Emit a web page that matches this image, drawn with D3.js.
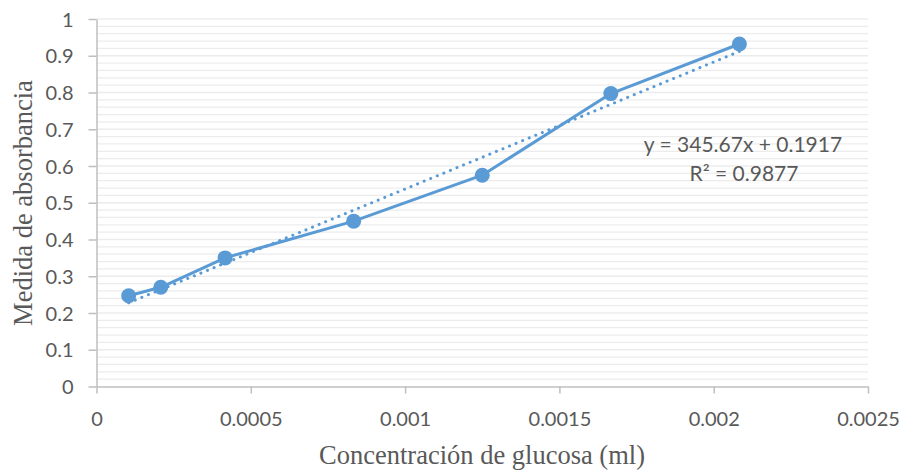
<!DOCTYPE html>
<html><head><meta charset="utf-8">
<script src="https://cdn.jsdelivr.net/npm/d3@7"></script>
<style>body{margin:0;background:#fff}svg{display:block}</style>
</head><body>
<script>
const concentrations = [0.0001042, 0.0002083, 0.0004167, 0.0008333, 0.00125, 0.0016667, 0.0020833];
const absorbance = [0.247, 0.270, 0.350, 0.450, 0.575, 0.797, 0.932];
const xTicks = [0, 0.0005, 0.001, 0.0015, 0.002, 0.0025];
const xTickLabels = ["0", "0.0005", "0.001", "0.0015", "0.002", "0.0025"];
const yTicks = [0, 0.1, 0.2, 0.3, 0.4, 0.5, 0.6, 0.7, 0.8, 0.9, 1];
const yTickLabels = ["0", "0.1", "0.2", "0.3", "0.4", "0.5", "0.6", "0.7", "0.8", "0.9", "1"];
const yGrid = d3.range(0, 51).map(i => i * 0.02);
const trendSlope = 345.67, trendIntercept = 0.1917;
const equationLines = ["y = 345.67x + 0.1917", "R² = 0.9877"];
const xTitle = "Concentración de glucosa (ml)";
const yTitle = "Medida de absorbancia";

const W = 904, H = 470;
const svg = d3.select("body").append("svg").attr("width", W).attr("height", H);
const x = d3.scaleLinear().domain([0, 0.0025]).range([96.5, 868]);
const y = d3.scaleLinear().domain([0, 1]).range([386.5, 19]);
const blue = "#5b9bd5", txt = "#595959", axisCol = "#bfbfbf";
const sans = "Lato, 'Open Sans', sans-serif";
const serif = "'Liberation Serif', 'Times New Roman', serif";

// grid
svg.append("g").selectAll("line").data(yGrid.slice(1)).join("line")
  .attr("x1", x(0)).attr("x2", x(0.0025))
  .attr("y1", d => y(d)).attr("y2", d => y(d))
  .attr("stroke", "#ececec").attr("stroke-width", 1.3);

// axes
const yAxis = d3.axisLeft(y).tickValues(yTicks).tickFormat((d, i) => yTickLabels[i]).tickSizeInner(8).tickSizeOuter(0).tickPadding(15);
const gy = svg.append("g").attr("transform", `translate(${x(0)},0)`).call(yAxis);
const xAxis = d3.axisBottom(x).tickValues(xTicks).tickFormat((d, i) => xTickLabels[i]).tickSizeInner(7).tickSizeOuter(0).tickPadding(18);
const gx = svg.append("g").attr("transform", `translate(0,${y(0)})`).call(xAxis);
[gx, gy].forEach(g => {
  g.select(".domain").attr("stroke", axisCol).attr("stroke-width", 1.5);
  g.selectAll(".tick line").attr("stroke", axisCol).attr("stroke-width", 1.5);
  g.selectAll(".tick text").attr("fill", txt).attr("font-family", sans).attr("font-size", 20);
});
gy.selectAll(".tick text").attr("dy", "0.36em");

// trendline
const xMin = d3.min(concentrations), xMax = d3.max(concentrations);
svg.append("line")
  .attr("x1", x(xMin)).attr("y1", y(trendSlope * xMin + trendIntercept))
  .attr("x2", x(xMax)).attr("y2", y(trendSlope * xMax + trendIntercept))
  .attr("stroke", blue).attr("stroke-width", 3).attr("stroke-linecap", "round")
  .attr("stroke-dasharray", "0.1 7");

// series line
const pts = concentrations.map((c, i) => [c, absorbance[i]]);
svg.append("path").datum(pts)
  .attr("d", d3.line().x(d => x(d[0])).y(d => y(d[1])))
  .attr("fill", "none").attr("stroke", blue).attr("stroke-width", 3).attr("stroke-linejoin", "round");
svg.append("g").selectAll("circle").data(pts).join("circle")
  .attr("cx", d => x(d[0])).attr("cy", d => y(d[1])).attr("r", 7.5).attr("fill", blue);

// equation
svg.append("text").attr("x", 743).attr("y", 152).attr("text-anchor", "middle")
  .attr("fill", txt).attr("font-family", sans).attr("font-size", 21).text(equationLines[0]);
svg.append("text").attr("x", 744).attr("y", 181).attr("text-anchor", "middle")
  .attr("fill", txt).attr("font-family", sans).attr("font-size", 21).text(equationLines[1]);

// titles
svg.append("text").attr("x", 482).attr("y", 464).attr("text-anchor", "middle")
  .attr("fill", txt).attr("font-family", serif).attr("font-size", 26.5).text(xTitle);
svg.append("text").attr("transform", "translate(32,203) rotate(-90)").attr("text-anchor", "middle")
  .attr("fill", txt).attr("font-family", serif).attr("font-size", 26.5).text(yTitle);
</script>
</body></html>
